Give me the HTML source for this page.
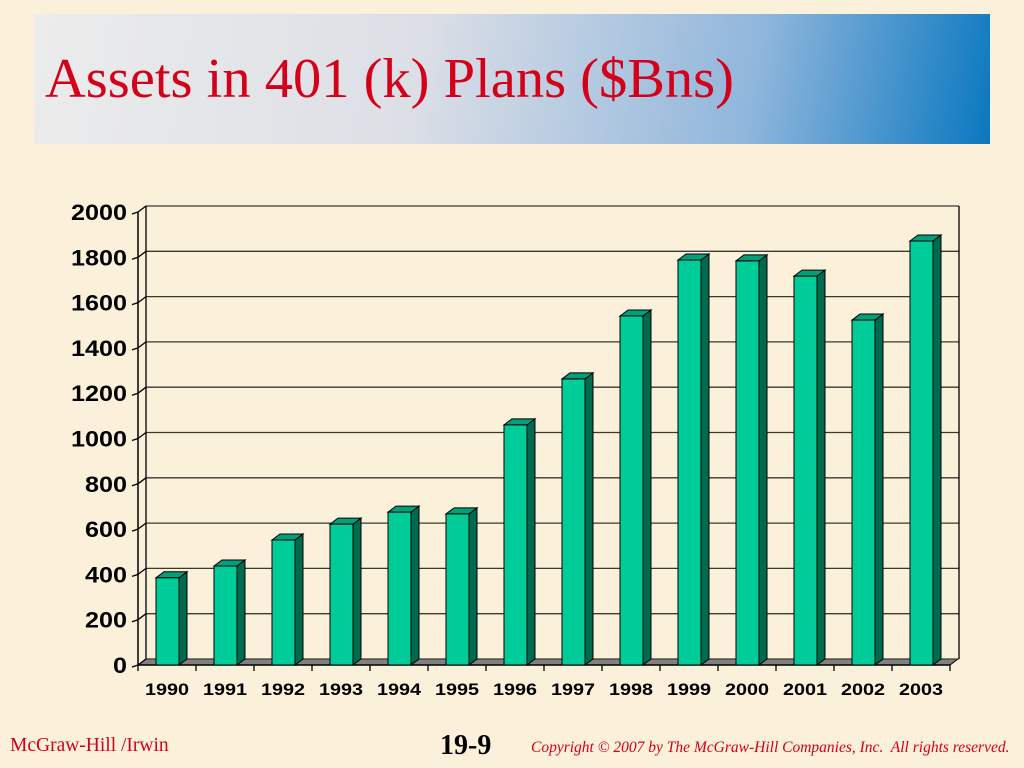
<!DOCTYPE html>
<html><head><meta charset="utf-8"><style>
body{margin:0;width:1024px;height:768px;background:#fbf0da;overflow:hidden;position:relative;font-family:"Liberation Sans",sans-serif}
#title-box{position:absolute;left:34px;top:14px;width:956px;height:130px;background:linear-gradient(100deg,#ececec 0%,#dcdfe6 40%,#8fb6dc 75%,#0a78c0 100%)}
#title{position:absolute;left:45px;top:47px;font:56.5px "Liberation Serif",serif;color:#d4001a;white-space:nowrap}
.foot{position:absolute;font-family:"Liberation Serif",serif;color:#d4001a;white-space:nowrap}
</style></head><body>
<div id="title-box"></div>
<div id="title">Assets in 401 (k) Plans ($Bns)</div>
<svg id="chart" width="1024" height="768" style="position:absolute;left:0;top:0"></svg>
<div class="foot" style="left:10px;top:735px;font-size:19.5px">McGraw-Hill /Irwin</div>
<div class="foot" style="left:440px;top:730px;font-size:28px;font-weight:bold;color:#000">19-9</div>
<div class="foot" style="left:531px;top:739px;font-size:15.5px;font-style:italic">Copyright © 2007 by The McGraw-Hill Companies, Inc.&nbsp; All rights reserved.</div>
<script>
const categories=["1990","1991","1992","1993","1994","1995","1996","1997","1998","1999","2000","2001","2002","2003"];
const values=[385,437,552,622,675,667,1060,1263,1541,1788,1784,1717,1523,1872];
const yTicks=[0,200,400,600,800,1000,1200,1400,1600,1800,2000];
const NS="http://www.w3.org/2000/svg";
const svg=document.getElementById('chart');
const X0=138,CW=58,Y0=665,YMAX=2000,PH=453,DX=8,DY=-6;
const y=v=>Y0-v/YMAX*PH;
const x=i=>X0+i*CW;
function mk(t,a,p){const e=document.createElementNS(NS,t);for(const k in a)e.setAttribute(k,a[k]);(p||svg).appendChild(e);return e;}
let fl=mk('polygon',{points:`${X0},${Y0} ${X0+DX},${Y0+DY} ${X0+14*CW+DX},${Y0+DY} ${X0+14*CW},${Y0}`,fill:'#808080',stroke:'#000','stroke-width':1});


yTicks.forEach(v=>{
  const g=mk('line',{x1:X0+DX,x2:X0+14*CW+DX+1,y1:y(v)+DY,y2:y(v)+DY,stroke:'#3a3a30','stroke-width':1.3});
  
  
  mk('line',{x1:X0-6,x2:X0,y1:y(v)+2,y2:y(v),stroke:'#000','stroke-width':1.3});
  mk('line',{x1:X0,x2:X0+DX,y1:y(v),y2:y(v)+DY,stroke:'#000','stroke-width':1.3});
  const s=String(v);
  const t=mk('text',{x:X0-11,y:y(v)+8,'text-anchor':'end','font-size':22,'font-weight':'bold',fill:'#000',textLength:s.length*14,lengthAdjust:'spacingAndGlyphs'});
  t.textContent=s;
  
  
});
mk('line',{x1:X0+DX,x2:X0+DX,y1:y(YMAX)+DY,y2:Y0+DY,stroke:'#000','stroke-width':1.3});
mk('line',{x1:X0+14*CW+DX+1,x2:X0+14*CW+DX+1,y1:y(YMAX)+DY,y2:Y0+DY,stroke:'#000','stroke-width':1.3});
mk('line',{x1:X0,x2:X0,y1:y(YMAX),y2:Y0,stroke:'#000','stroke-width':1.5});
mk('line',{x1:X0,x2:X0+14*CW,y1:Y0,y2:Y0,stroke:'#000','stroke-width':1.5});
for(let i=0;i<=14;i++)mk('line',{x1:x(i),x2:x(i),y1:Y0,y2:Y0+6,stroke:'#000','stroke-width':1.3});
categories.forEach((c,i)=>{
  const bx=x(i)+18,bw=23,top=y(values[i]);
  const g=mk('g',{});
  
  
  mk('polygon',{points:`${bx+bw},${top} ${bx+bw+DX},${top+DY} ${bx+bw+DX},${Y0+DY} ${bx+bw},${Y0}`,fill:'#006a4e',stroke:'#000','stroke-width':1},g);
  mk('polygon',{points:`${bx},${top} ${bx+DX},${top+DY} ${bx+bw+DX},${top+DY} ${bx+bw},${top}`,fill:'#00a07a',stroke:'#000','stroke-width':1},g);
  mk('rect',{x:bx,y:top,width:bw,height:Y0-top,fill:'#00cc99',stroke:'#000','stroke-width':1},g);
  const t=mk('text',{x:x(i)+CW/2,y:Y0+30,'text-anchor':'middle','font-size':17,'font-weight':'bold',fill:'#000',textLength:44,lengthAdjust:'spacingAndGlyphs'});
  t.textContent=c;
  
  
});
</script>
</body></html>
